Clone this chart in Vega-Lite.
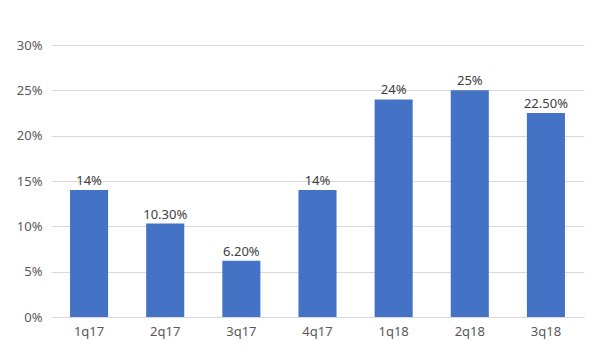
{
  "$schema": "https://vega.github.io/schema/vega-lite/v6.json",
  "width": 533,
  "height": 272,
  "autosize": {"type": "none"},
  "padding": {"left": 51, "top": 45, "right": 16, "bottom": 43},
  "background": "white",
  "config": {
    "view": {"stroke": null},
    "font": "Noto Sans"
  },
  "data": {
    "values": [
      {"quarter": "1q17", "value": 0.14, "label": "14%"},
      {"quarter": "2q17", "value": 0.103, "label": "10.30%"},
      {"quarter": "3q17", "value": 0.062, "label": "6.20%"},
      {"quarter": "4q17", "value": 0.14, "label": "14%"},
      {"quarter": "1q18", "value": 0.24, "label": "24%"},
      {"quarter": "2q18", "value": 0.25, "label": "25%"},
      {"quarter": "3q18", "value": 0.225, "label": "22.50%"}
    ]
  },
  "encoding": {
    "x": {
      "field": "quarter",
      "type": "nominal",
      "sort": null,
      "scale": {"paddingInner": 0.5, "paddingOuter": 0.25},
      "axis": {
        "title": null,
        "labelAngle": 0,
        "domain": true,
        "domainColor": "#d9d9d9",
        "ticks": false,
        "labelColor": "#595959",
        "labelFontSize": 13,
        "labelPadding": 8
      }
    },
    "y": {
      "field": "value",
      "type": "quantitative",
      "scale": {"domain": [0, 0.3], "nice": false},
      "axis": {
        "title": null,
        "format": ".0%",
        "values": [0, 0.05, 0.1, 0.15, 0.2, 0.25, 0.3],
        "domain": false,
        "ticks": false,
        "gridColor": "#d9d9d9",
        "labelColor": "#595959",
        "labelFontSize": 13,
        "labelPadding": 9
      }
    }
  },
  "layer": [
    {"mark": {"type": "bar", "color": "#4472c4"}},
    {
      "mark": {"type": "text", "baseline": "bottom", "dy": -2, "fontSize": 13, "color": "#404040"},
      "encoding": {"text": {"field": "label"}}
    }
  ]
}
